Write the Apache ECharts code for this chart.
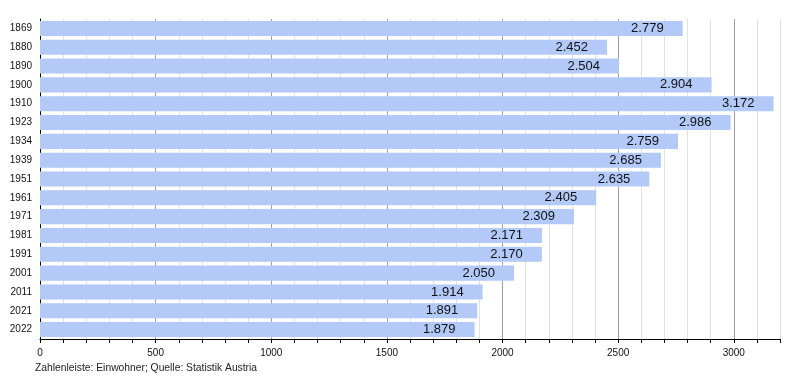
<!DOCTYPE html>
<html><head><meta charset="utf-8">
<script src="https://cdn.jsdelivr.net/npm/echarts@6/dist/echarts.min.js"></script>
<style>html,body{margin:0;padding:0;background:#fff}#c{width:800px;height:380px}</style>
</head><body><div id="c"></div>
<script>
const years = ['1869','1880','1890','1900','1910','1923','1934','1939','1951','1961','1971','1981','1991','2001','2011','2021','2022'];
const population = [2779,2452,2504,2904,3172,2986,2759,2685,2635,2405,2309,2171,2170,2050,1914,1891,1879];
const sourceNote = 'Zahlenleiste: Einwohner; Quelle: Statistik Austria';

function deFmt(v){ return String(v).replace(/\B(?=(\d{3})+(?!\d))/g,'.'); }
const font = "'Liberation Sans', Arial, sans-serif";
const chart = echarts.init(document.getElementById('c'), null, {renderer:'canvas'});
chart.setOption({
  animation:false,
  textStyle:{fontFamily:font},
  grid:{left:40,right:20,top:19,bottom:41,containLabel:false},
  title:{text:sourceNote,left:35,top:363,padding:0,textStyle:{fontSize:10.3,fontWeight:'normal',color:'#222',fontFamily:font}},
  xAxis:{type:'value',min:0,max:3200,interval:100,
    axisLine:{show:true,lineStyle:{color:'#000',width:1}},
    axisTick:{show:true,length:4,lineStyle:{color:'#000'}},
    axisLabel:{color:'#111',fontSize:10,margin:9,fontFamily:font,
      formatter:v=> (v%500===0 ? String(v) : '')},
    splitLine:{show:true,lineStyle:{color:['#a0a0a0','#e2e2e2','#e2e2e2','#e2e2e2','#e2e2e2'],width:1}}
  },
  yAxis:{type:'category',data:years,inverse:true,
    axisLine:{show:true,lineStyle:{color:'#000',width:1}},
    axisTick:{show:false},
    axisLabel:{color:'#111',fontSize:10,margin:8,fontFamily:font}
  },
  series:[{type:'bar',data:population,barCategoryGap:'20%',
    itemStyle:{color:'#b3c9f7'},
    label:{show:true,position:'insideRight',distance:19,color:'#111',fontSize:13,fontFamily:font,
      formatter:p=>deFmt(p.value)}
  }]
});
</script></body></html>
